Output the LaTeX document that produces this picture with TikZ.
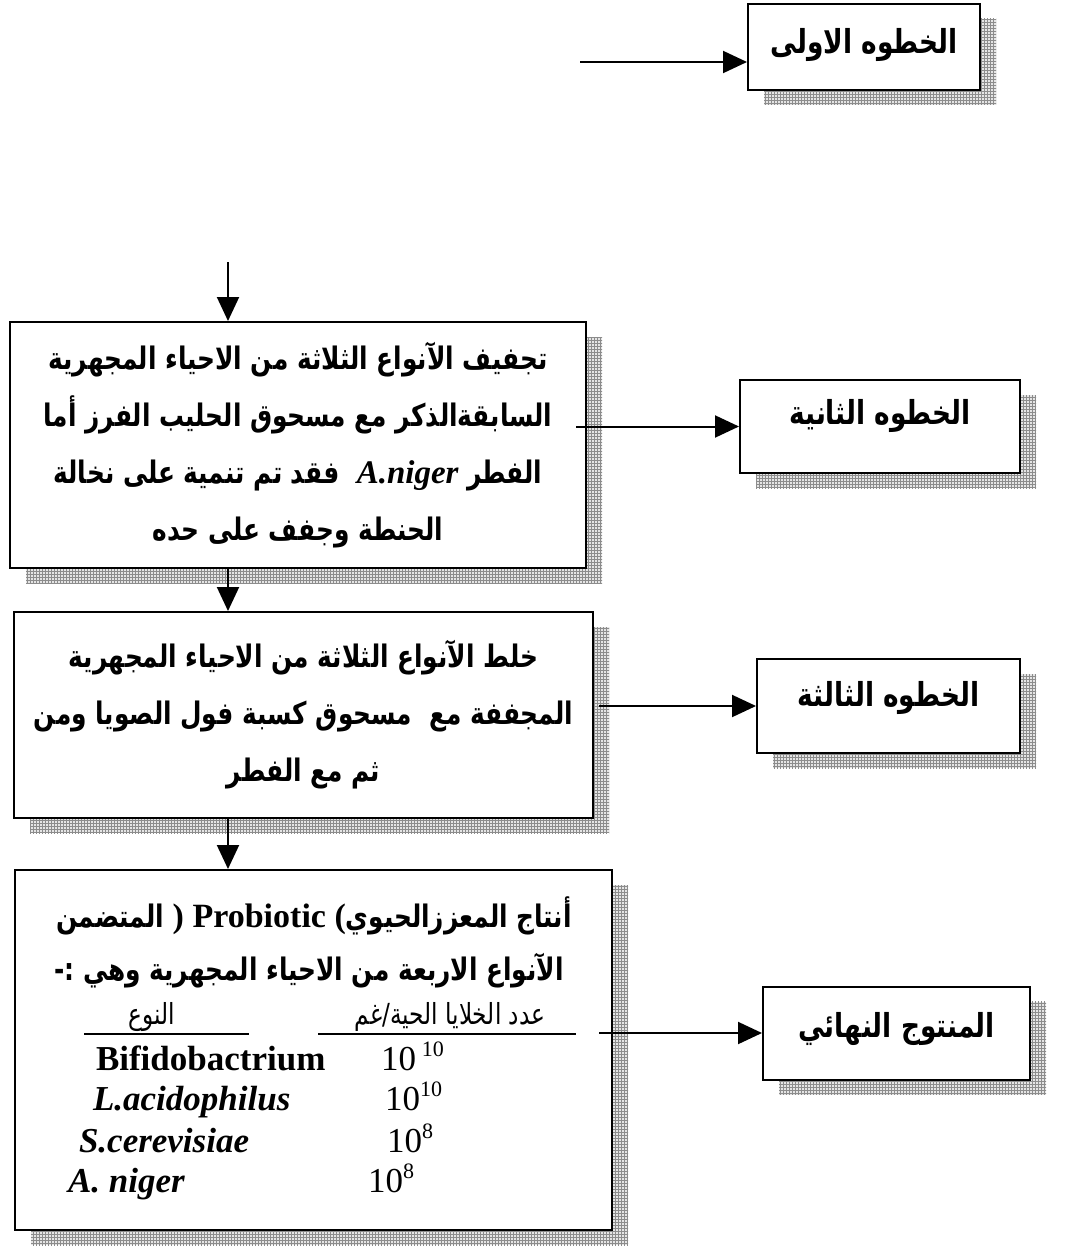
\documentclass[tikz,border=0pt]{standalone}
\usepackage{fontspec}
\setmainfont{Liberation Serif}
\newfontfamily\arabicfont[Script=Arabic,FakeStretch=0.8]{DejaVu Sans}
\TeXXeTstate=1
\usetikzlibrary{arrows.meta,positioning,shadows,patterns}
\definecolor{gridGrey}{HTML}{8C8C8C}
\newcommand{\sciname}[1]{{\rmfamily\bfseries\itshape #1}}
\newcommand{\expo}[1]{\raisebox{14pt}{\fontsize{22}{22}\selectfont #1}}

\begin{document}
\begin{tikzpicture}[x=1pt,y=-1pt,>={Triangle[length=24pt,width=22pt]},line width=2pt]
\tikzstyle{gridshadow}=[general shadow={shadow xshift=16pt,shadow yshift=-15pt,draw=none,fill=gray!20},general shadow={shadow xshift=16pt,shadow yshift=-15pt,draw=none,pattern=grid,pattern color=gridGrey}]
\tikzstyle{stepbox}=[draw,fill=white,gridshadow,inner sep=0pt,text height=20pt,font=\arabicfont\bfseries\fontsize{33}{38}\selectfont]
\tikzstyle{bigbox}=[draw,fill=white,gridshadow,align=center,font=\arabicfont\bfseries\fontsize{31}{57}\selectfont]
\tikzstyle{prodline}=[inner sep=0pt,anchor=base,font=\arabicfont\bfseries\fontsize{31}{36}\selectfont]
\tikzstyle{headtext}=[inner sep=0pt,anchor=base,font=\arabicfont\fontsize{29}{30}\selectfont]
\tikzstyle{rowtext}=[inner sep=0pt,anchor=base west,font=\fontsize{35}{38}\selectfont]
\useasboundingbox (0,0) rectangle (1067,1252);

% steps on the right
\node[stepbox,minimum width=232pt,minimum height=86pt,text depth=6pt] (stepOne) at (864,47) {\beginR الخطوه الاولى\endR};
\node[stepbox,minimum width=280pt,minimum height=93pt,text depth=25pt] (stepTwo) at (880,426.5) {\beginR الخطوه الثانية\endR};
\node[stepbox,minimum width=263pt,minimum height=94pt,text depth=20pt] (stepThree) at (888.5,706) {\beginR الخطوه الثالثة\endR};
\node[stepbox,minimum width=267pt,minimum height=93pt,text depth=11pt] (finalStep) at (896.5,1033) {\beginR المنتوج النهائي\endR};

% main column
\node[bigbox,minimum width=576pt,minimum height=246pt] (dry) at (298,445) {\beginR تجفيف الآنواع الثلاثة من الاحياء المجهرية\endR\\
\beginR السابقةالذكر مع مسحوق الحليب الفرز أما\endR\\
\beginR الفطر \beginL\sciname{\fontsize{33}{36}\selectfont A.niger}\endL\ \ فقد تم تنمية على نخالة\endR\\
\beginR الحنطة وجفف على حده\endR};
\node[bigbox,minimum width=579pt,minimum height=206pt] (mix) at (303.5,715) {\beginR خلط الآنواع الثلاثة من الاحياء المجهرية\endR\\
\beginR المجففة مع \ مسحوق كسبة فول الصويا ومن\endR\\
\beginR ثم مع الفطر\endR};
\node[draw,fill=white,gridshadow,minimum width=597pt,minimum height=360pt] (product) at (313.5,1050) {};

% product contents
\node[prodline] (prodA) at (314,927) {\beginR أنتاج المعززالحيوي\beginL{\rmfamily\bfseries\fontsize{34}{36}\selectfont) Probiotic (}\endL{} المتضمن\endR};
\node[prodline] (prodB) at (309,980) {\beginR الآنواع الاربعة من الاحياء المجهرية وهي :-\endR};
\node[headtext] (hType) at (152,1024) {\beginR النوع\endR};
\node[headtext] (hCount) at (450,1024) {\beginR عدد الخلايا الحية/غم\endR};
\draw[line width=1.5pt] (84,1034) -- (249,1034);
\draw[line width=1.5pt] (318,1034) -- (576,1034);
\node[rowtext] (bifido) at (95,1070) {\bfseries Bifidobactrium};
\node[rowtext] (bifidoN) at (380,1070) {10\,\expo{10}};
\node[rowtext] (lacto) at (92,1110) {\sciname{L.acidophilus}};
\node[rowtext] (lactoN) at (384,1110) {10\expo{10}};
\node[rowtext] (sacch) at (78,1152) {\sciname{S.cerevisiae}};
\node[rowtext] (sacchN) at (386,1152) {10\expo{8}};
\node[rowtext] (asper) at (67,1192) {\sciname{A. niger}};
\node[rowtext] (asperN) at (367,1192) {10\expo{8}};

% connectors
\coordinate (inTop) at (580,62);
\coordinate (inDry) at (228,262);
\draw[->] (inTop) -- (inTop -| stepOne.west);
\draw[->] (inDry) -- (dry.north -| inDry);
\foreach \a/\b in {dry/mix,mix/product}{\draw[->] (\a.south -| inDry) -- (\b.north -| inDry);}
\draw[->] ([xshift=-11pt]dry.east |- stepTwo.west) -- (stepTwo.west);
\draw[->] ([xshift=5pt]mix.east |- stepThree.west) -- (stepThree.west);
\draw[->] ([xshift=-14pt]product.east |- finalStep.west) -- (finalStep.west);
\end{tikzpicture}
\end{document}
